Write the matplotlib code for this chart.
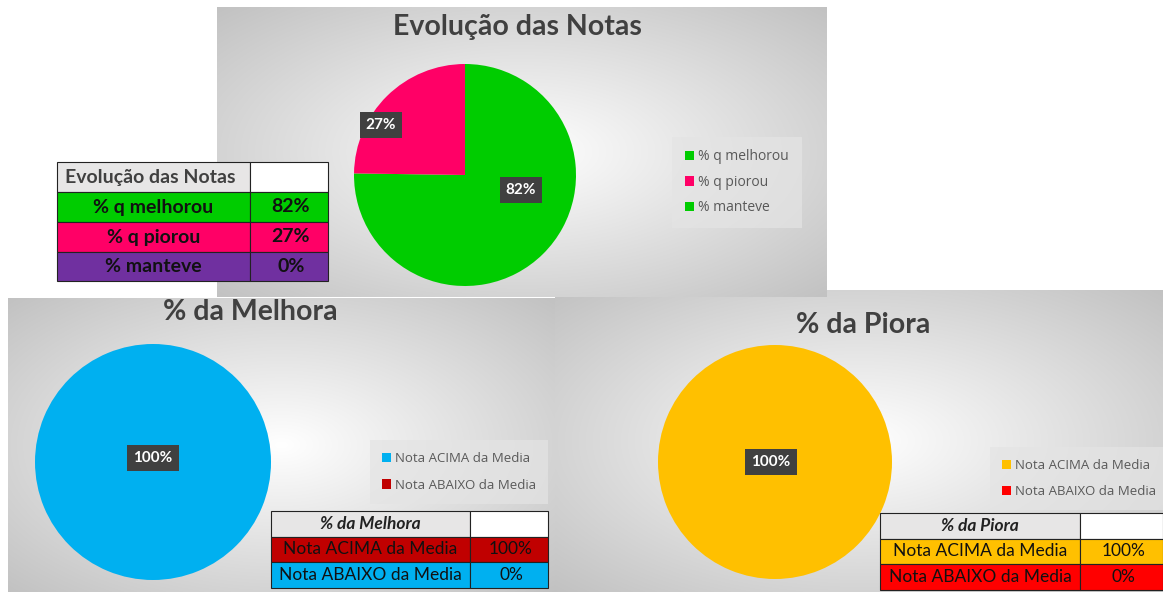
import matplotlib.pyplot as plt
import numpy as np
from matplotlib.patches import Rectangle

# ---- data ----
evol_title = 'Evolução das Notas'
evol_labels = ['% q melhorou', '% q piorou', '% manteve']
evol_values = [82, 27, 0]

melhora_title = '% da Melhora'
melhora_labels = ['Nota ACIMA da Media', 'Nota ABAIXO da Media']
melhora_values = [100, 0]

piora_title = '% da Piora'
piora_labels = ['Nota ACIMA da Media', 'Nota ABAIXO da Media']
piora_values = [100, 0]

# ---- styles ----
evol_pie_colors = ['#00cc00', '#ff0066', '#00cc00']
evol_table_colors = ['#00cc00', '#ff0066', '#7030a0']
melhora_pie_colors = ['#00b0f0', '#c00000']
melhora_table_colors = ['#c00000', '#00b0f0']
piora_pie_colors = ['#ffc000', '#ff0000']
piora_table_colors = ['#ffc000', '#ff0000']

W, H = 1163, 592
TITLE_FONT = 'Lato'
LEGEND_FONT = 'Open Sans'

fig = plt.figure(figsize=(W / 100, H / 100), dpi=100)
fig.patch.set_facecolor('white')


def px_axes(x0, y0, x1, y1):
    return fig.add_axes([x0 / W, 1 - y1 / H, (x1 - x0) / W, (y1 - y0) / H])


bg = px_axes(0, 0, W, H)
bg.set_xlim(0, W)
bg.set_ylim(H, 0)
bg.axis('off')


def panel(x0, y0, x1, y1, title, tx, ty):
    # radial gradient background, white centre to grey edges
    yy, xx = np.mgrid[-1:1:200j, -1:1:300j]
    r = np.sqrt((xx ** 2 + yy ** 2) / 2)
    g = 1 - 0.24 * r
    img = np.dstack([g, g, g])
    bg.imshow(img, extent=(x0, x1, y1, y0), aspect='auto', interpolation='bilinear', zorder=1)
    bg.text(tx, ty, title, ha='center', va='center', fontsize=20.5, fontweight='bold',
            color='#404040', family=TITLE_FONT, zorder=3)


panel(555, 290, W, H, piora_title, 863, 325)
panel(8, 298, 555, H, melhora_title, 250, 312)
panel(217, 7, 827, 297, evol_title, 517, 27)
bg.set_xlim(0, W)
bg.set_ylim(H, 0)


def draw_pie(cx, cy, r, values, colors, labels, label_pos, leg_xy, leg_spacing, leg_size):
    ax = px_axes(cx - r, cy - r, cx + r, cy + r)
    ax.patch.set_visible(False)
    total = sum(values)
    wedges, _, autotexts = ax.pie(
        values, colors=colors, startangle=90, counterclock=False, radius=1,
        autopct=lambda p: '%.0f%%' % (p * total / 100) if p > 0 else '',
        pctdistance=0.5, wedgeprops=dict(linewidth=0))
    for t, pos in zip(autotexts, label_pos):
        if pos is not None:
            t.set_position(pos)
        t.set_color('white')
        t.set_fontweight('bold')
        t.set_fontsize(11)
        t.set_family(TITLE_FONT)
        if t.get_text():
            t.set_bbox(dict(boxstyle='square,pad=0.4', fc='#404040', ec='none'))
    ax.set_xlim(-1, 1)
    ax.set_ylim(-1, 1)
    ax.set_aspect('equal')
    leg = ax.legend(wedges, labels, loc='upper left',
                    bbox_to_anchor=(leg_xy[0] / W, 1 - leg_xy[1] / H),
                    bbox_transform=fig.transFigure, frameon=True, fancybox=False,
                    facecolor='#e4e4e4', edgecolor='none', framealpha=0.7,
                    handlelength=0.7, handleheight=0.7, handletextpad=0.3,
                    labelspacing=leg_spacing, borderpad=0.9, borderaxespad=0,
                    prop=dict(family=LEGEND_FONT, size=leg_size))
    for t in leg.get_texts():
        t.set_color('#595959')
    return ax


draw_pie(465, 175, 111, evol_values, evol_pie_colors, evol_labels,
         [(0.505, -0.135), (-0.757, 0.45), None], (672, 137), 0.75, 10)
draw_pie(153, 462, 118, melhora_values, melhora_pie_colors, melhora_labels,
         [(0.0, 0.034), None], (370, 440), 1.05, 9.5)
draw_pie(775, 462, 117, piora_values, piora_pie_colors, piora_labels,
         [(-0.034, 0.0), None], (990, 447), 1.0, 9.5)

# ---- tables ----
ov = px_axes(0, 0, W, H)
ov.set_xlim(0, W)
ov.set_ylim(H, 0)
ov.axis('off')
ov.patch.set_visible(False)


def draw_table(xs, ys, header, labels, values, colors, bold_rows, header_style, size):
    cells = [(header, '', '#e7e6e6', '#404040')]
    for lab, val, col in zip(labels, values, colors):
        cells.append((lab, '%d%%' % val, col, '#111111'))
    for i, (lab, val, col, tc) in enumerate(cells):
        y0, y1 = ys[i], ys[i + 1]
        ov.add_patch(Rectangle((xs[0], y0), xs[1] - xs[0], y1 - y0, fc=col, ec='#222222', lw=0.8))
        ov.add_patch(Rectangle((xs[1], y0), xs[2] - xs[1], y1 - y0,
                               fc='white' if i == 0 else col, ec='#222222', lw=0.8))
        if i == 0:
            ov.text((xs[0] + xs[1]) / 2 if header_style == 'italic' else xs[0] + 8,
                    (y0 + y1) / 2, lab, ha='center' if header_style == 'italic' else 'left',
                    va='center', fontsize=size, fontweight='bold', style=header_style,
                    color='#222222' if header_style == 'italic' else tc, family=TITLE_FONT)
        else:
            ov.text((xs[0] + xs[1]) / 2, (y0 + y1) / 2, lab, ha='center', va='center',
                    fontsize=size, fontweight='bold' if bold_rows else 'normal',
                    color=tc, family=TITLE_FONT)
            ov.text((xs[1] + xs[2]) / 2 + 2, (y0 + y1) / 2, val, ha='center', va='center',
                    fontsize=size, fontweight='bold' if bold_rows else 'normal',
                    color=tc, family=TITLE_FONT)


draw_table([57, 250, 328], [162, 192, 222, 252, 281], evol_title, evol_labels,
           evol_values, evol_table_colors, True, 'normal', 14)
draw_table([271, 470, 548], [511, 537, 562, 588], melhora_title, melhora_labels,
           melhora_values, melhora_table_colors, False, 'italic', 12.5)
draw_table([880, 1080, 1163], [513, 539, 564, 590], piora_title, piora_labels,
           piora_values, piora_table_colors, False, 'italic', 12.5)

fig.savefig('out.png', dpi=100)
